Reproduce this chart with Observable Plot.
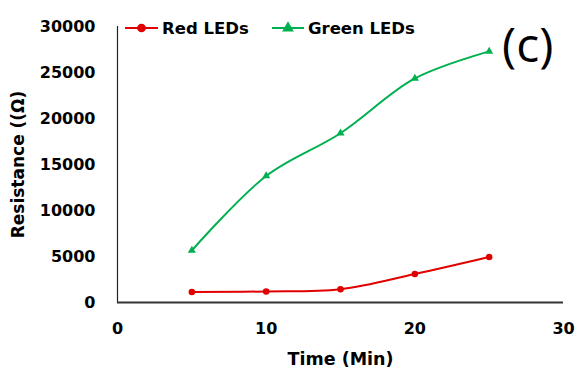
<!DOCTYPE html>
<html><head><meta charset="utf-8">
<script src="https://cdn.jsdelivr.net/npm/d3@7"></script>
<script src="https://cdn.jsdelivr.net/npm/@observablehq/plot@0.6"></script>
<style>
body{margin:0;background:#fff;}
#wrap{position:relative;width:577px;height:374px;overflow:hidden;}
#legend{position:absolute;left:0;top:0;}
#panel{position:absolute;left:502px;top:20px;font-family:"Open Sans","DejaVu Sans",sans-serif;font-size:48px;color:#000;line-height:1;}
</style></head><body><div id="wrap"></div>
<script>
const time = [5, 10, 15, 20, 25];
const redLEDs = [1150, 1200, 1450, 3100, 4950];
const greenLEDs = [5650, 13750, 18400, 24350, 27300];
const seriesNames = ["Red LEDs", "Green LEDs"];
const xTicks = [0, 10, 20, 30];
const yTicks = [0, 5000, 10000, 15000, 20000, 25000, 30000];
const xTitle = "Time (Min)";
const yTitle = "Resistance ((Ω)";
const panelLabel = "(c)";

const colors = {"Red LEDs": "#e00000", "Green LEDs": "#00b050"};
const symbols = {"Red LEDs": "circle", "Green LEDs": "triangle"};

const data = [];
time.forEach((t, i) => data.push({series: seriesNames[0], t, v: redLEDs[i]}));
time.forEach((t, i) => data.push({series: seriesNames[1], t, v: greenLEDs[i]}));

const font = "DejaVu Sans";
const plot = Plot.plot({
  width: 577, height: 374,
  marginLeft: 117, marginRight: 14, marginTop: 26, marginBottom: 72,
  style: {fontFamily: font, fontSize: "16px", fontWeight: "bold", color: "#000", background: "#fff"},
  x: {domain: [0, 30]},
  y: {domain: [0, 30000]},
  color: {domain: seriesNames, range: seriesNames.map(s => colors[s])},
  symbol: {domain: seriesNames, range: seriesNames.map(s => symbols[s])},
  marks: [
    Plot.axisX({ticks: xTicks, tickSize: 0, tickPadding: 20, tickFormat: d => String(d), label: null, fontSize: 16}),
    Plot.axisX({ticks: [], tickSize: 0, label: xTitle, labelAnchor: "center", labelArrow: "none", labelOffset: 62, fontSize: 17.5}),
    Plot.axisY({ticks: yTicks, tickSize: 0, tickPadding: 22, tickFormat: d => String(d), label: null, fontSize: 16}),
    Plot.axisY({ticks: [], tickSize: 0, label: yTitle, labelAnchor: "center", labelArrow: "none", labelOffset: 106, fontSize: 17}),
    Plot.ruleX([0], {stroke: "#222", strokeWidth: 1.2}),
    Plot.ruleY([0], {stroke: "#333", strokeWidth: 2}),
    Plot.line(data, {x: "t", y: "v", z: "series", stroke: "series", strokeWidth: 2, curve: "catmull-rom"}),
    Plot.dot(data, {x: "t", y: "v", fill: "series", symbol: "series", r: d => d.series === seriesNames[0] ? 5 : 4.2, stroke: null})
  ]
});
const wrap = document.getElementById("wrap");
wrap.appendChild(plot);

// legend
const lg = d3.select(wrap).append("svg").attr("id", "legend").attr("width", 577).attr("height", 50);
const items = [{name: seriesNames[0], x0: 125, x1: 158, tx: 162}, {name: seriesNames[1], x0: 272, x1: 304, tx: 308}];
items.forEach(it => {
  const c = colors[it.name];
  lg.append("line").attr("x1", it.x0).attr("x2", it.x1).attr("y1", 28).attr("y2", 28).attr("stroke", c).attr("stroke-width", 2);
  lg.append("path").attr("d", d3.symbol(symbols[it.name] === "circle" ? d3.symbolCircle : d3.symbolTriangle, 60)()).attr("transform", `translate(${(it.x0 + it.x1) / 2},28)`).attr("fill", c);
  lg.append("text").attr("x", it.tx).attr("y", 28).attr("dy", "0.35em").attr("font-family", font).attr("font-weight", "bold").attr("font-size", 16.5).attr("fill", "#000").text(it.name);
});
const p = document.createElement("div");
p.id = "panel"; p.textContent = panelLabel;
wrap.appendChild(p);
</script></body></html>
